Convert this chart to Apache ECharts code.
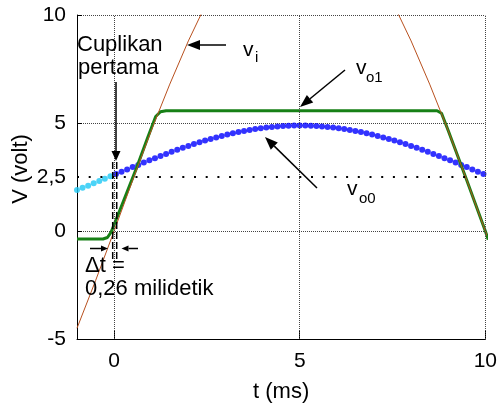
<!DOCTYPE html>
<html><head><meta charset="utf-8">
<script src="https://cdn.jsdelivr.net/npm/echarts@6/dist/echarts.min.js"></script>
<style>html,body{margin:0;padding:0;background:#fff}#c{width:500px;height:408px}</style>
</head><body><div id="c"></div>
<script>
// ---- data ----
const xTickValues = [0, 5, 10];
const yGridExtra = 2.5;
const yExtraLabel = '2,5';

// v_i (input, brown)
const tVi = [-1, -0.5, 0, 0.5, 1, 1.5, 2, 2.5, 3, 4, 5, 6, 7, 7.5, 8, 8.5, 9, 9.5, 10, 10.1];
const vVi = [-4.5, -2.3, 0, 2.35, 4.65, 6.8, 8.8, 10.6, 12.1, 14.3, 15, 14.3, 12.1, 10.6, 8.8, 6.8, 4.65, 2.35, 0, -0.45];

// v_o1 (green)
const tVo1 = [-1, -0.3, -0.18, -0.08, 0.25, 0.6, 0.9, 1.12, 1.25, 1.4, 8.7, 8.82, 9, 9.5, 10, 10.08];
const vVo1 = [-0.37, -0.37, -0.3, -0.05, 1.38, 2.9, 4.3, 5.3, 5.52, 5.57, 5.57, 5.45, 4.65, 2.35, 0, -0.4];

// v_o0 before first sample (cyan)
const tCyan = [-1, -0.85, -0.7, -0.55, -0.4, -0.25, -0.1];
const vCyan = [1.90, 2.00, 2.10, 2.21, 2.31, 2.42, 2.53];

// v_o0 (blue)
const tBlue = [0.05,0.2,0.35,0.5,0.65,0.8,0.95,1.1,1.25,1.4,1.55,1.7,1.85,2.0,2.15,2.3,2.45,2.6,2.75,2.9,3.05,3.2,3.35,3.5,3.65,3.8,3.95,4.1,4.25,4.4,4.55,4.7,4.85,5.0,5.15,5.3,5.45,5.6,5.75,5.9,6.05,6.2,6.35,6.5,6.65,6.8,6.95,7.1,7.25,7.4,7.55,7.7,7.85,8.0,8.15,8.3,8.45,8.6,8.75,8.9,9.05,9.2,9.35,9.5,9.65,9.8,9.95];
const vBlue = [2.64,2.74,2.85,2.96,3.06,3.17,3.27,3.37,3.47,3.57,3.67,3.76,3.85,3.94,4.03,4.11,4.19,4.26,4.33,4.40,4.47,4.52,4.58,4.63,4.68,4.72,4.76,4.79,4.82,4.84,4.86,4.87,4.88,4.88,4.88,4.87,4.86,4.84,4.82,4.79,4.76,4.72,4.68,4.63,4.58,4.52,4.47,4.40,4.33,4.26,4.19,4.11,4.03,3.94,3.85,3.76,3.67,3.57,3.47,3.37,3.27,3.17,3.06,2.96,2.85,2.74,2.64];

// ---- chart ----
const FONT = '"Liberation Sans", Arial, sans-serif';
const zip = (a, b) => a.map((v, i) => [v, b[i]]);
const chart = echarts.init(document.getElementById('c'), null, {renderer: 'canvas'});
const gridStyle = {color: '#444', width: 1, type: [1, 1]};

const option = {
  animation: false,
  backgroundColor: '#fff',
  grid: {left: 77, right: 13, top: 15, bottom: 66, containLabel: false},
  xAxis: {
    type: 'value', min: -1, max: 10,
    axisLine: {show: true, onZero: false, lineStyle: {color: '#000', width: 1}},
    axisTick: {show: true, inside: true, length: 8, customValues: xTickValues, lineStyle: {color: '#000'}},
    axisLabel: {customValues: xTickValues, fontSize: 21, color: '#000', fontFamily: FONT, margin: 12},
    splitLine: {show: false},
    name: 't (ms)', nameLocation: 'middle', nameGap: 42,
    nameTextStyle: {fontSize: 22, color: '#000', fontFamily: FONT}
  },
  yAxis: {
    type: 'value', min: -5, max: 10, interval: 5,
    axisLine: {show: true, onZero: false, lineStyle: {color: '#000', width: 1}},
    axisTick: {show: true, inside: true, length: 5, lineStyle: {color: '#000'}},
    axisLabel: {fontSize: 21, color: '#000', fontFamily: FONT, margin: 11},
    splitLine: {show: true, lineStyle: gridStyle},
    name: 'V (volt)', nameLocation: 'middle', nameGap: 42, nameRotate: 90,
    nameTextStyle: {fontSize: 22, color: '#000', fontFamily: FONT, padding: [0, 0, 0, 16]}
  },
  series: [
    {
      type: 'line', data: [], silent: true,
      markLine: {
        silent: true, symbol: ['none', 'none'], animation: false,
        label: {show: false},
        lineStyle: gridStyle,
        data: xTickValues.map(v => ({xAxis: v})).concat([{
          yAxis: yGridExtra,
          lineStyle: {color: '#000', width: 2, type: [2, 9.7]},
          label: {show: true, position: 'start', formatter: yExtraLabel, fontSize: 21, color: '#000', fontFamily: FONT, distance: 11}
        }])
      }
    },
    {type: 'scatter', data: zip(tCyan, vCyan), symbol: 'circle', symbolSize: 6, itemStyle: {color: '#1ec8f5'}, silent: true},
    {type: 'scatter', data: zip(tBlue, vBlue), symbol: 'circle', symbolSize: 6, itemStyle: {color: '#0000ff'}, silent: true},
    {type: 'line', data: zip(tVo1, vVo1), showSymbol: false, clip: false, lineStyle: {color: '#178016', width: 3}, silent: true},
    {type: 'line', data: zip(tVi, vVi), showSymbol: false, clip: true, lineStyle: {color: '#b8501e', width: 1}, silent: true}
  ]
};
chart.setOption(option);

// ---- annotations ----
function arrow(x1, y1, x2, y2, len, w) {
  const dx = x2 - x1, dy = y2 - y1, d = Math.hypot(dx, dy);
  const ux = dx / d, uy = dy / d, px = -uy, py = ux;
  const bx = x2 - ux * len, by = y2 - uy * len;
  return [
    {type: 'line', shape: {x1, y1, x2: bx, y2: by}, style: {stroke: '#000', lineWidth: 1.5}, z: 100},
    {type: 'polygon', shape: {points: [[x2, y2], [bx + px * w / 2, by + py * w / 2], [bx - px * w / 2, by - py * w / 2]]}, style: {fill: '#000'}, z: 100}
  ];
}
function txt(s, x, y, size) {
  return {type: 'text', x, y, z: 100, style: {text: s, fill: '#000', font: size + 'px ' + FONT, verticalAlign: 'middle', align: 'left'}};
}
const els = [];
els.push(txt('Cuplikan', 77, 44.5, 22));
els.push(txt('pertama', 78, 67.5, 22));
els.push(txt('\u0394t =', 85, 266, 22));
els.push(txt('0,26 milidetik', 85, 289, 22));
els.push(txt('v', 243, 50.7, 21));
els.push(txt('i', 255, 57.8, 15));
els.push(txt('v', 356, 68.7, 21));
els.push(txt('o1', 366, 78, 15));
els.push(txt('v', 347, 189.4, 21));
els.push(txt('o0', 359, 198.8, 15));
els.push(...arrow(226, 45, 187, 45, 13, 10));
els.push(...arrow(345, 70, 300, 107, 13, 10));
els.push(...arrow(317, 188, 265, 137, 13, 10));
els.push(...arrow(116, 82, 116, 161, 10, 9));
els.push(...arrow(90, 248.5, 108, 248.5, 7, 6));
els.push(...arrow(138, 248.5, 121.5, 248.5, 7, 6));
[112.7, 116.7].forEach(x => els.push({type: 'line', z: 100, shape: {x1: x, y1: 162, x2: x, y2: 262}, style: {stroke: '#000', lineWidth: 1.5, lineDash: [7, 3]}}));
chart.setOption({graphic: {elements: els}});
</script>
</body></html>
